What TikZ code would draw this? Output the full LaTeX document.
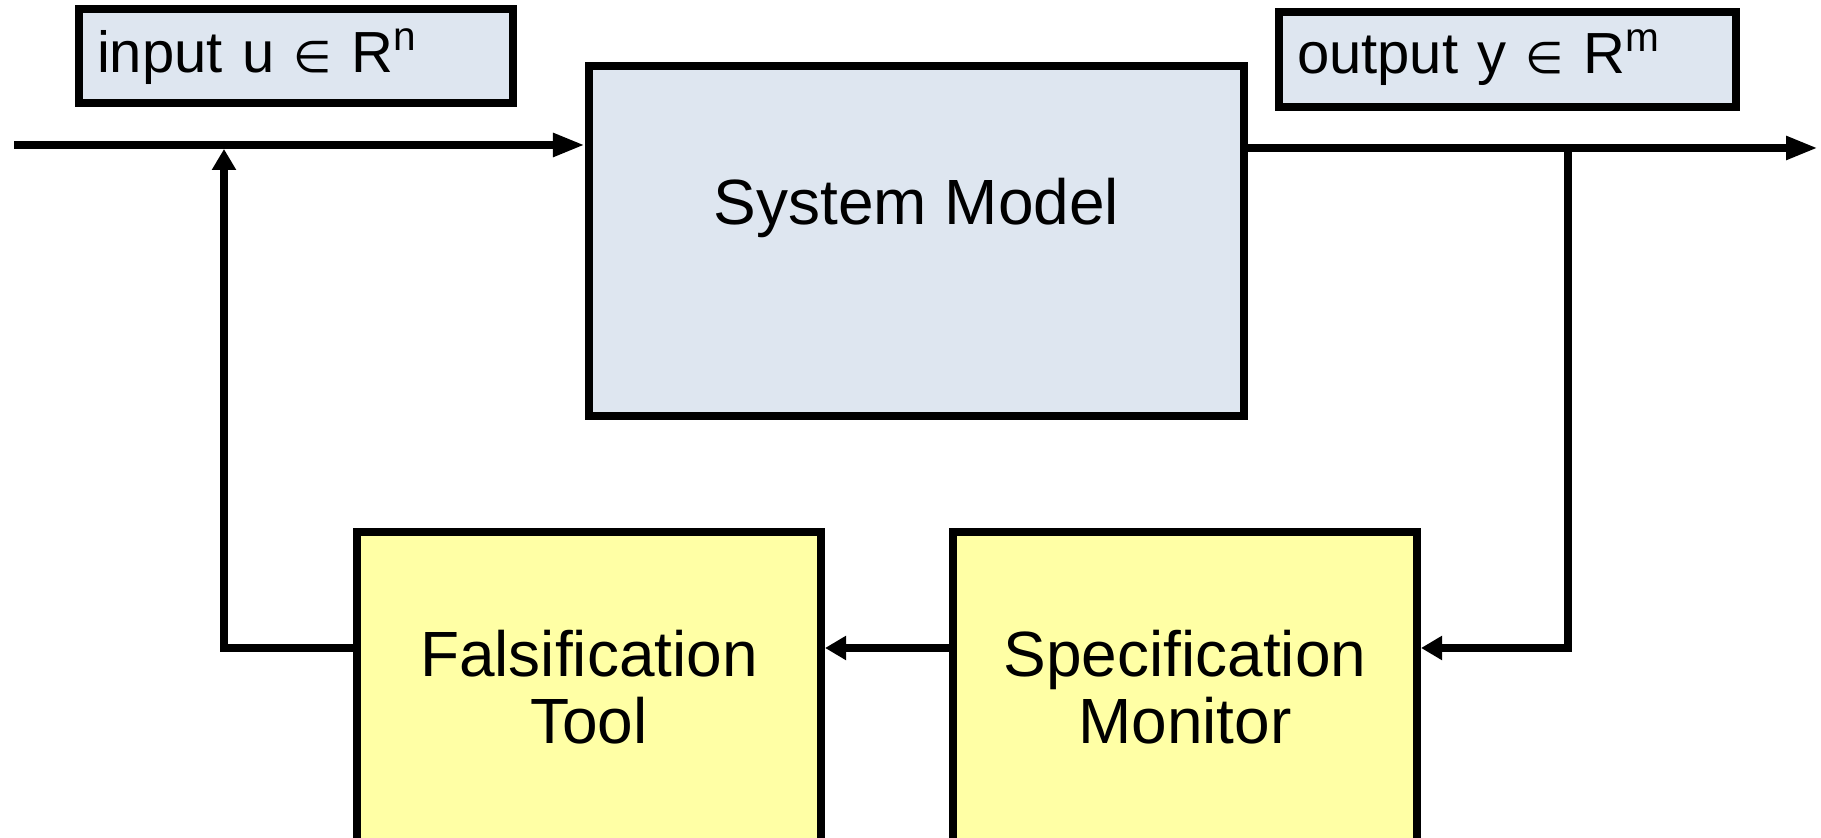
\documentclass[tikz,border=0pt]{standalone}
\usepackage{fontspec}
\setmainfont[Ligatures=CommonOff]{Liberation Sans}
\newfontfamily\symbfont{DejaVu Sans}
\usetikzlibrary{arrows.meta}

\definecolor{modelblue}{HTML}{DEE6F0}
\definecolor{toolyellow}{HTML}{FFFFA5}
\newcommand{\elem}{{\symbfont\fontsize{12.5}{13}\selectfont ∈}}

\begin{document}
\begin{tikzpicture}[
    line width = 2.3pt,
    every node/.style = {
      inner sep = 0pt, font = \fontsize{16.5}{19}\selectfont
    },
    box/.style = { draw },
    port/.style = { box, fill = modelblue, align = left, inner xsep = 0.18cm },
    block/.style = { box, fill = toolyellow, align = center,
      font = \fontsize{18.2}{19.1}\selectfont,
      minimum width = 4.64cm, minimum height = 3.10cm },
    signal/.style = { -{Triangle[length = 0.32cm, width = 0.22cm]} },
    feedback/.style = { -{Triangle[length = 0.21cm, width = 0.23cm]} }
  ]
  \useasboundingbox (0, 0) rectangle (18.21, 8.38);

  \node[port, text width = 3.98cm, text height = 0.64cm, text depth = 0.30cm]
    (input) at (2.96, 7.82) {input u \elem\ R\textsuperscript{n}};
  \node[port, text width = 4.21cm, text height = 0.62cm, text depth = 0.33cm]
    (output) at (15.075, 7.785) {output y \elem\ R\textsuperscript{m}};
  \node[box, fill = modelblue, minimum width = 6.55cm,
    font = \fontsize{18.2}{19.1}\selectfont,
    text height = 1.59cm, text depth = 1.91cm]
    (model) at (9.165, 5.97) {System Model};
  \node[block] (falsifier) at (5.89, 1.51) {Falsification\\Tool};
  \node[block] (monitor) at (11.85, 1.51) {Specification\\Monitor};

  \coordinate (source) at (0.14, 6.93);
  \coordinate (sink) at (18.18, 6.90);
  \coordinate (tap) at (15.68, 6.90);
  \coordinate (loop) at (15.68, 1.90);
  \coordinate (inject) at (2.24, 6.89);

  \draw[signal] (source) -- (source -| model.west);
  \draw[signal] (sink -| model.east) -- (sink);
  \draw[feedback] (tap) -- (loop) -- (loop -| monitor.east);
  \draw[feedback] (loop -| monitor.west) -- (loop -| falsifier.east);
  \draw[feedback] (loop -| falsifier.west) -- (loop -| inject) -- (inject);
\end{tikzpicture}
\end{document}
